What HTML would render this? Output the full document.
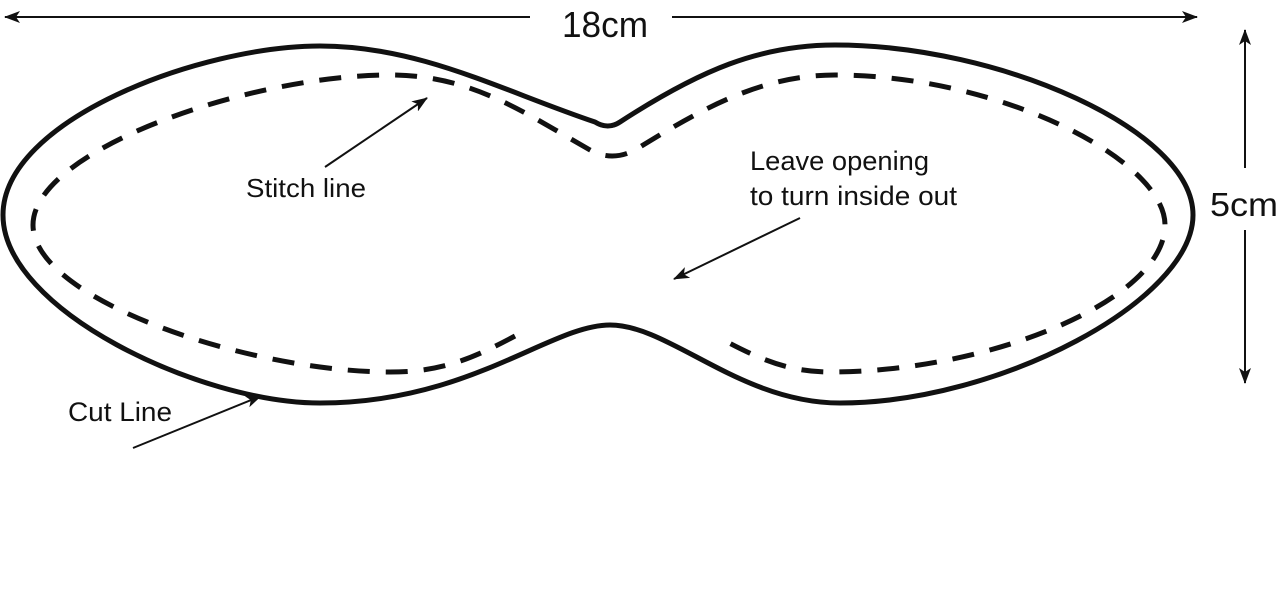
<!DOCTYPE html>
<html><head><meta charset="utf-8"><style>
html,body{margin:0;padding:0;background:#fff;}
svg{display:block}
text{font-family:"Liberation Sans",sans-serif;fill:#111;}
</style></head><body>
<svg width="1280" height="606" viewBox="0 0 1280 606" xmlns="http://www.w3.org/2000/svg">
<defs>
<marker id="a" viewBox="0 0 16 12" refX="15" refY="6" markerWidth="16" markerHeight="12" markerUnits="userSpaceOnUse" orient="auto">
<path d="M0,0 L16,6 L0,12 L4,6 Z" fill="#111"/>
</marker>
</defs>
<path d="M3,215 C3,120 200,46 320,46 C420,46 500,90 595,122 Q608,130 620,122 C700,70 760,45 835,45 C1000,45 1193,130 1193,215 C1193,300 1000,403 840,403 C740,403 670,325 610,325 C550,325 470,403 320,403 C200,403 3,310 3,215 Z" fill="none" stroke="#111" stroke-width="5"/>
<path d="M515,336 C470,360 440,372 390,372 C250,372 33,300 33,225 C33,150 250,75 390,75 C470,75 520,110 590,150 Q612,162 635,150 C700,110 760,75 835,75 C1000,75 1165,160 1165,225 C1165,300 990,372 830,372 C790,372 760,360 718,337" fill="none" stroke="#111" stroke-width="5" stroke-dasharray="22 16"/>
<line x1="530" y1="17" x2="5" y2="17" stroke="#111" stroke-width="2" marker-end="url(#a)"/>
<line x1="672" y1="17" x2="1197" y2="17" stroke="#111" stroke-width="2" marker-end="url(#a)"/>
<text x="562" y="37" font-size="36" textLength="86" lengthAdjust="spacingAndGlyphs">18cm</text>
<line x1="1245" y1="168" x2="1245" y2="30" stroke="#111" stroke-width="2" marker-end="url(#a)"/>
<line x1="1245" y1="230" x2="1245" y2="383" stroke="#111" stroke-width="2" marker-end="url(#a)"/>
<text x="1210" y="216" font-size="33" textLength="68" lengthAdjust="spacingAndGlyphs">5cm</text>
<line x1="325" y1="167" x2="427" y2="98" stroke="#111" stroke-width="2" marker-end="url(#a)"/>
<text x="246" y="197" font-size="26" textLength="120" lengthAdjust="spacingAndGlyphs">Stitch line</text>
<line x1="133" y1="448" x2="261" y2="396" stroke="#111" stroke-width="2" marker-end="url(#a)"/>
<text x="68" y="421" font-size="27" textLength="104" lengthAdjust="spacingAndGlyphs">Cut Line</text>
<text x="750" y="170" font-size="27" textLength="179" lengthAdjust="spacingAndGlyphs">Leave opening</text>
<text x="750" y="205" font-size="27" textLength="207" lengthAdjust="spacingAndGlyphs">to turn inside out</text>
<line x1="800" y1="218" x2="674" y2="279" stroke="#111" stroke-width="2" marker-end="url(#a)"/>
</svg>
</body></html>
